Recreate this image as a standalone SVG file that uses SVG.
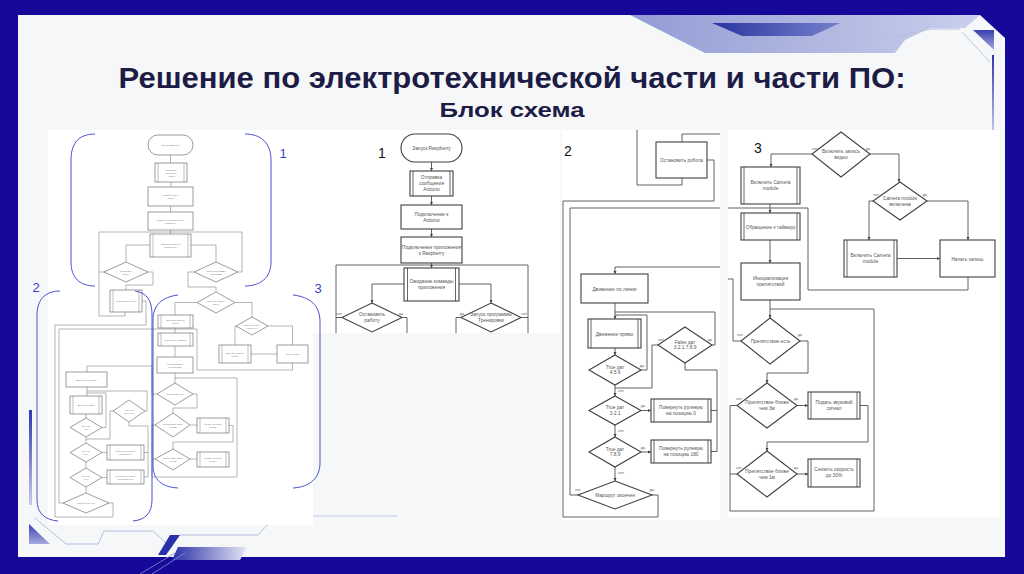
<svg xmlns="http://www.w3.org/2000/svg" width="1024" height="574" viewBox="0 0 1024 574">
<defs>
<style>
.ln{fill:none;stroke:#505050;stroke-width:0.9}
.bx{fill:#fff;stroke:#404040;stroke-width:1.1}
.pl{fill:none;stroke:#404040;stroke-width:0.8}
.t{font-family:"Liberation Sans",Arial,sans-serif;font-size:4.8px;fill:#555;text-anchor:middle}
.lb{font-family:"Liberation Sans",Arial,sans-serif;font-size:3.8px;fill:#555;text-anchor:middle}
.ol{fill:none;stroke:#6a6a6a;stroke-width:0.5}
.ob{fill:#fff;stroke:#5a5a5a;stroke-width:0.6}
.opl{fill:none;stroke:#5a5a5a;stroke-width:0.4}
.ot{font-family:"Liberation Sans",Arial,sans-serif;font-size:2.2px;fill:#777;text-anchor:middle}
.br{fill:none;stroke:#4b50d0;stroke-width:1}
.num{font-family:"Liberation Sans",Arial,sans-serif;font-size:13px;fill:#3a3fc4;text-anchor:middle}
.pn{font-family:"Liberation Sans",Arial,sans-serif;font-size:14px;fill:#111;text-anchor:middle}
.dl{fill:none;stroke:#b8bde2;stroke-width:1}
</style>
<marker id="ar" viewBox="0 0 6 6" refX="6" refY="3" markerWidth="3.5" markerHeight="3.5" orient="auto"><path d="M0,0L6,3L0,6z" fill="#444"/></marker>
<linearGradient id="gTop" x1="0" y1="0" x2="1" y2="0"><stop offset="0" stop-color="#939cd4"/><stop offset="1" stop-color="#c9cfec"/></linearGradient>
<linearGradient id="gBand" x1="0" y1="0" x2="1" y2="0"><stop offset="0" stop-color="#2a35a0"/><stop offset="1" stop-color="#7580cc"/></linearGradient>
<linearGradient id="gTri" x1="0" y1="0" x2="0" y2="1"><stop offset="0" stop-color="#3a3fb0"/><stop offset="1" stop-color="#a5aae0"/></linearGradient>
<linearGradient id="gV" x1="0" y1="0" x2="0" y2="1"><stop offset="0" stop-color="#2f35b0"/><stop offset="1" stop-color="#c8cbec"/></linearGradient>
<linearGradient id="gBar" x1="0" y1="0" x2="1" y2="0"><stop offset="0" stop-color="#2a30a8"/><stop offset="1" stop-color="#e5e7f5"/></linearGradient>
</defs>

<rect width="1024" height="574" fill="#16099a"/>
<polygon points="18,15 980,15 1005,38 1005,557 18,557" fill="#f6f7f9"/>

<g id="decor">
<polygon points="630,15 980,15 965,28 930,28 905,40 895,53 705,53" fill="url(#gTop)"/>
<polygon points="712,23 840,23 812,36 742,36" fill="url(#gBand)"/>
<polyline class="dl" points="860,40 900,36 930,29 960,29"/>
<polygon points="973,30 994,30 994,50" fill="url(#gTri)"/>
<line x1="962" y1="32" x2="990" y2="62" stroke="#c0c4e0" stroke-width="1"/>
<rect x="992" y="55" width="2" height="80" fill="url(#gV)"/>
<rect x="29" y="410" width="3" height="95" fill="url(#gV)"/>
<polygon points="29,524 29,544 50,544" fill="url(#gTri)"/>
<polyline class="dl" points="35,518 66,544 98,544 104,531 153,531 166,543"/>
<polyline class="dl" points="180,535 258,535 270,522"/>
<polygon points="170,535 180,535 166,555 158,555" fill="#2a30a8"/>
<polygon points="178,547 247,547 240,560 172,560" fill="url(#gBar)"/>
<line x1="175" y1="553" x2="140" y2="574" stroke="#8890d0" stroke-width="0.8"/>
<line x1="185" y1="553" x2="152" y2="574" stroke="#8890d0" stroke-width="0.8"/>
<line x1="313" y1="516" x2="397" y2="516" stroke="#c5c9ea" stroke-width="1"/>
</g>

<g id="title" font-family="'Liberation Sans',Arial,sans-serif" font-weight="bold" fill="#1d1c45" text-anchor="middle">
<text x="512" y="88" font-size="30" textLength="787" lengthAdjust="spacingAndGlyphs">Решение по электротехнической части и части ПО:</text>
<text x="512" y="117" font-size="21" textLength="145" lengthAdjust="spacingAndGlyphs">Блок схема</text>
</g>

<g id="panels">
<rect x="48" y="130" width="512" height="203" fill="#fff"/>
<rect x="48" y="333" width="265" height="192" fill="#fff"/>
<rect x="562" y="130" width="158" height="390" fill="#fff"/>
<rect x="728" y="130" width="272" height="387" fill="#fff"/>
</g>

<!-- ================= OVERVIEW ================= -->
<g id="overview-connectors">
<path class="ol" d="M170.5,155V163M171,182V187M170.5,206V212M170.5,230V234"/>
<path class="ol" d="M99,316V232H242V272H238M150,245H126V262M191,245H216V262M104,272H99M148,272H153V285H126V290M194,272H188V287H216V292M99,316H125V312"/>
<path class="ol" d="M142,301H146V325H55V517H113V503H109"/>
<path class="ol" d="M197,302.5H175V315M235,302.5H252V317M236,326H235V345M268,326H292.5V345M251,354H277M292.5,363V370H197V329H59V503H63"/>
<path class="ol" d="M175,328V333M175,346V357M175,373V383M175,378H237V477H152V425H155M152,459H155M157,394H152V366H87V372"/>
<path class="ol" d="M193,394H197V408H173V413M190,425H197M229,425.5H233V442H173V449M190,459H197"/>
<path class="ol" d="M87,387V396M87,391H147V411H145M87,393H106V427.5H102M86,414V418M86,437V443M113,411H110V439H86M129,422V426H148V477H144M144,452.5H148M102,452.5H107M86,462V468M102,477.5H107M86,487V493"/>
</g>
<g id="o-start"><rect class="ob" x="148" y="135" width="45" height="20" rx="10"/><text class="ot" x="170.5" y="146">Запуск Raspberry</text></g>
<g id="o-send"><rect class="ob" x="155" y="163" width="32" height="19"/><path class="opl" d="M158,163v19M184,163v19"/><text class="ot" x="171" y="170.5">Отправка</text><text class="ot" x="171" y="173.5">сообщения</text><text class="ot" x="171" y="176.5">Arduino</text></g>
<g id="o-conn"><rect class="ob" x="148" y="187" width="45" height="19"/><text class="ot" x="170.5" y="196">Подключение к</text><text class="ot" x="170.5" y="199">Arduino</text></g>
<g id="o-app"><rect class="ob" x="148" y="212" width="45" height="18"/><text class="ot" x="170.5" y="220.5">Подключение приложения</text><text class="ot" x="170.5" y="223.5">к Raspberry</text></g>
<g id="o-wait"><rect class="ob" x="150" y="234" width="41" height="23"/><path class="opl" d="M153,234v23M188,234v23"/><text class="ot" x="170.5" y="245">Ожидание команды</text><text class="ot" x="170.5" y="248">приложения</text></g>
<g id="o-stopq"><polygon class="ob" points="126,262 148,272 126,282 104,272"/><text class="ot" x="126" y="271.5">Остановить</text><text class="ot" x="126" y="274.5">работу</text></g>
<g id="o-train"><polygon class="ob" points="216,262 238,272 216,282 194,272"/><text class="ot" x="216" y="271.5">Запуск программы</text><text class="ot" x="216" y="274.5">Тренировки</text></g>
<g id="o-stop"><rect class="ob" x="110" y="290" width="32" height="22"/><path class="opl" d="M113,290v22M139,290v22"/><text class="ot" x="126" y="301.5">Остановить робота</text></g>
<g id="o-video"><polygon class="ob" points="216,292 235,302.5 216,313 197,302.5"/><text class="ot" x="216" y="302">Включить запись</text><text class="ot" x="216" y="305">видео</text></g>
<g id="o-cam1"><rect class="ob" x="158" y="315" width="35" height="13"/><path class="opl" d="M161,315v13M190,315v13"/><text class="ot" x="175.5" y="321">Включить Camera</text><text class="ot" x="175.5" y="324">module</text></g>
<g id="o-camon"><polygon class="ob" points="252,317 268,326 252,335 236,326"/><text class="ot" x="252" y="325.5">Camera module</text><text class="ot" x="252" y="328.5">включена</text></g>
<g id="o-cam2"><rect class="ob" x="219" y="345" width="32" height="18"/><path class="opl" d="M222,345v18M248,345v18"/><text class="ot" x="235" y="353.5">Включить Camera</text><text class="ot" x="235" y="356.5">module</text></g>
<g id="o-rec"><rect class="ob" x="277" y="345" width="31" height="18"/><text class="ot" x="292.5" y="355">Начать запись</text></g>
<g id="o-timer"><rect class="ob" x="158" y="333" width="35" height="13"/><path class="opl" d="M161,333v13M190,333v13"/><text class="ot" x="175.5" y="340.5">Обращение к таймеру</text></g>
<g id="o-init"><rect class="ob" x="157" y="357" width="36" height="16"/><text class="ot" x="175" y="364.5">Инициализация</text><text class="ot" x="175" y="367.5">препятствий</text></g>
<g id="o-obs"><polygon class="ob" points="175,383 193,394 175,405 157,394"/><text class="ot" x="175" y="395">Препятствие есть</text></g>
<g id="o-n3"><polygon class="ob" points="173,413 190,425 173,437 155,425"/><text class="ot" x="173" y="424.5">Препятствие ближе</text><text class="ot" x="173" y="427.5">чем 3м</text></g>
<g id="o-beep"><rect class="ob" x="197" y="418" width="32" height="15"/><path class="opl" d="M200,418v15M226,418v15"/><text class="ot" x="213" y="425">Подать звуковой</text><text class="ot" x="213" y="428">сигнал</text></g>
<g id="o-n1"><polygon class="ob" points="173,449 190,459 173,470 155,459"/><text class="ot" x="173" y="458.5">Препятствие ближе</text><text class="ot" x="173" y="461.5">чем 1м</text></g>
<g id="o-slow"><rect class="ob" x="197" y="452" width="32" height="15"/><path class="opl" d="M200,452v15M226,452v15"/><text class="ot" x="213" y="459">Снизить скорость</text><text class="ot" x="213" y="462">до 30%</text></g>
<g id="o-line"><rect class="ob" x="66" y="372" width="41" height="15"/><text class="ot" x="86.5" y="380.5">Движение по линии</text></g>
<g id="o-straight"><rect class="ob" x="70" y="396" width="32" height="18"/><path class="opl" d="M73,396v18M99,396v18"/><text class="ot" x="86" y="405.5">Движение прямо</text></g>
<g id="o-t456"><polygon class="ob" points="86,418 102,427.5 86,437 70,427.5"/><text class="ot" x="86" y="427">True дат</text><text class="ot" x="86" y="430">4.5.6</text></g>
<g id="o-false"><polygon class="ob" points="129,400 145,411 129,422 113,411"/><text class="ot" x="129" y="410.5">False дат</text><text class="ot" x="129" y="413.5">3.2.1.7.8.9</text></g>
<g id="o-t321"><polygon class="ob" points="86,443 102,452.5 86,462 70,452.5"/><text class="ot" x="86" y="452">True дат</text><text class="ot" x="86" y="455">3.2.1</text></g>
<g id="o-rot0"><rect class="ob" x="107" y="445" width="37" height="15"/><path class="opl" d="M110,445v15M141,445v15"/><text class="ot" x="125.5" y="452">Повернуть рулевую</text><text class="ot" x="125.5" y="455">на позицию 0</text></g>
<g id="o-t789"><polygon class="ob" points="86,468 102,477.5 86,487 70,477.5"/><text class="ot" x="86" y="477">True дат</text><text class="ot" x="86" y="480">7.8.9</text></g>
<g id="o-rot180"><rect class="ob" x="107" y="470" width="37" height="14"/><path class="opl" d="M110,470v14M141,470v14"/><text class="ot" x="125.5" y="476.5">Повернуть рулевую</text><text class="ot" x="125.5" y="479.5">на позицию 180</text></g>
<g id="o-end"><polygon class="ob" points="86,493 109,503 86,513 63,503"/><text class="ot" x="86" y="504">Маршрут окончен</text></g>

<g id="brackets">
<path class="br" d="M95,134C80,134 71,142 71,160L71,262C71,278 80,286 95,286"/>
<path class="br" d="M245,134C260,134 271,142 271,160L271,262C271,278 260,286 245,286"/>
<path class="br" d="M60,291C45,291 37,300 37,315L37,500C37,513 45,520 58,521"/>
<path class="br" d="M135,291C147,293 152,300 152,315L152,500C152,513 145,520 133,521"/>
<path class="br" d="M178,295C162,297 153,305 153,320L153,465C153,480 162,487 178,488"/>
<path class="br" d="M293,295C310,297 320,305 320,322L320,463C320,478 310,487 293,488"/>
<text class="num" x="283" y="158">1</text>
<text class="num" x="36" y="292">2</text>
<text class="num" x="318" y="293">3</text>
</g>

<!-- ================= PANEL 1 ================= -->
<g id="p1-connectors">
<path class="ln" marker-end="url(#ar)" d="M431.5,162V171"/>
<path class="ln" marker-end="url(#ar)" d="M431.5,196V205"/>
<path class="ln" marker-end="url(#ar)" d="M431.5,229V237"/>
<path class="ln" marker-end="url(#ar)" d="M431.5,263V268"/>
<path class="ln" d="M336,333V265H528V333"/>
<path class="ln" marker-end="url(#ar)" d="M404,284H372V303"/>
<path class="ln" marker-end="url(#ar)" d="M459,284H491V303"/>
<path class="ln" d="M342,317.5H336M402,317.5H407V333M461,317.5H456V333M521,317.5H528"/>
<text class="lb" x="339" y="314.5">нет</text><text class="lb" x="401" y="314.5">да</text>
<text class="lb" x="462" y="314.5">да</text><text class="lb" x="524" y="314.5">нет</text>
</g>
<text class="pn" x="382" y="158">1</text>
<g id="p1-start"><rect class="bx" x="401" y="134" width="61" height="28" rx="14"/><text class="t" x="431.5" y="150">Запуск Raspberry</text></g>
<g id="p1-send"><rect class="bx" x="410" y="171" width="43" height="25"/><path class="pl" d="M413,171v25M450,171v25"/><text class="t" x="431.5" y="178.5">Отправка</text><text class="t" x="431.5" y="184.5">сообщения</text><text class="t" x="431.5" y="190.5">Arduino</text></g>
<g id="p1-conn"><rect class="bx" x="401" y="205" width="61" height="24"/><text class="t" x="431.5" y="215.5">Подключение к</text><text class="t" x="431.5" y="221.5">Arduino</text></g>
<g id="p1-app"><rect class="bx" x="401" y="237" width="61" height="26"/><text class="t" x="431.5" y="248.5" font-size="4.4">Подключение приложения</text><text class="t" x="431.5" y="254.5">к Raspberry</text></g>
<g id="p1-wait"><rect class="bx" x="404" y="268" width="55" height="33" stroke-width="1.5"/><path class="pl" d="M407.5,268v33M455.5,268v33"/><text class="t" x="431.5" y="283">Ожидание команды</text><text class="t" x="431.5" y="289">приложения</text></g>
<g id="p1-stop"><polygon class="bx" points="372,303 402,317.5 372,332 342,317.5"/><text class="t" x="372" y="316">Остановить</text><text class="t" x="372" y="322">работу</text></g>
<g id="p1-train"><polygon class="bx" points="491,303 521,317.5 491,332 461,317.5"/><text class="t" x="491" y="316" font-size="4.4">Запуск программы</text><text class="t" x="491" y="322" font-size="4.4">Тренировки</text></g>

<!-- ================= PANEL 2 ================= -->
<text class="pn" x="568" y="156">2</text>
<g id="p2-connectors">
<path class="ln" d="M637,130V185H682V178"/>
<path class="ln" d="M682,142V134H720"/>
<path class="ln" d="M707,160H714V201H563V517H658V495H652"/>
<path class="ln" d="M720,208H570V495H578"/>
<path class="ln" marker-end="url(#ar)" d="M720,267H615V274"/>
<path class="ln" marker-end="url(#ar)" d="M615,303V319"/>
<path class="ln" d="M615,312H715V345H712M615,315H647V370H641"/>
<path class="ln" marker-end="url(#ar)" d="M615,348V355"/>
<path class="ln" marker-end="url(#ar)" d="M615,385V396"/>
<path class="ln" d="M658,345H652V388H615"/>
<path class="ln" d="M685,363V370H717V451.5H711M711,410.5H717"/>
<path class="ln" marker-end="url(#ar)" d="M641,410.5H651"/>
<path class="ln" marker-end="url(#ar)" d="M615,425V437"/>
<path class="ln" marker-end="url(#ar)" d="M641,452H651"/>
<path class="ln" marker-end="url(#ar)" d="M615,467V481"/>
<text class="lb" x="642" y="366.5">да</text><text class="lb" x="621" y="391.5">нет</text>
<text class="lb" x="661" y="340.5">нет</text><text class="lb" x="710" y="340.5">да</text>
<text class="lb" x="643" y="407">да</text><text class="lb" x="621" y="431.5">нет</text>
<text class="lb" x="643" y="448.5">да</text><text class="lb" x="621" y="473.5">нет</text>
<text class="lb" x="578" y="491">нет</text><text class="lb" x="652" y="491">да</text>
</g>
<g id="p2-stop"><rect class="bx" x="656" y="142" width="51" height="36"/><text class="t" x="681.5" y="162" font-size="4.6">Остановить робота</text></g>
<g id="p2-line"><rect class="bx" x="581" y="274" width="67" height="29"/><text class="t" x="614.5" y="290.5">Движение по линии</text></g>
<g id="p2-straight"><rect class="bx" x="588" y="319" width="53" height="29"/><path class="pl" d="M591,319v29M638,319v29"/><text class="t" x="614.5" y="335.5">Движение прямо</text></g>
<g id="p2-t456"><polygon class="bx" points="615,355 641,370 615,385 589,370"/><text class="t" x="615" y="368.5">True дат</text><text class="t" x="615" y="374">4.5.6</text></g>
<g id="p2-false"><polygon class="bx" points="685,327 712,345 685,363 658,345"/><text class="t" x="685" y="343.5">False дат</text><text class="t" x="685" y="349">3.2.1.7.8.9</text></g>
<g id="p2-t321"><polygon class="bx" points="615,396 641,410.5 615,425 589,410.5"/><text class="t" x="615" y="409">True дат</text><text class="t" x="615" y="414.5">3.2.1</text></g>
<g id="p2-rot0"><rect class="bx" x="651" y="399" width="60" height="23"/><path class="pl" d="M654,399v23M708,399v23"/><text class="t" x="681" y="409">Повернуть рулевую</text><text class="t" x="681" y="415">на позицию 0</text></g>
<g id="p2-t789"><polygon class="bx" points="615,437 641,452 615,467 589,452"/><text class="t" x="615" y="450.5">True дат</text><text class="t" x="615" y="456">7.8.9</text></g>
<g id="p2-rot180"><rect class="bx" x="651" y="440" width="60" height="23"/><path class="pl" d="M654,440v23M708,440v23"/><text class="t" x="681" y="450">Повернуть рулевую</text><text class="t" x="681" y="456">на позицию 180</text></g>
<g id="p2-end"><polygon class="bx" points="615,481 652,495 615,509 578,495"/><text class="t" x="615" y="497">Маршрут окончен</text></g>

<!-- ================= PANEL 3 ================= -->
<text class="pn" x="758" y="153">3</text>
<g id="p3-connectors">
<path class="ln" marker-end="url(#ar)" d="M812,154H771V167"/>
<path class="ln" marker-end="url(#ar)" d="M870,154H899V182"/>
<path class="ln" marker-end="url(#ar)" d="M873,201H869V240"/>
<path class="ln" marker-end="url(#ar)" d="M927,201H968V240"/>
<path class="ln" marker-end="url(#ar)" d="M897,258.5H940"/>
<path class="ln" d="M968,277V290H808V208H728"/>
<path class="ln" marker-end="url(#ar)" d="M770,204V213"/>
<path class="ln" marker-end="url(#ar)" d="M770,240V263"/>
<path class="ln" marker-end="url(#ar)" d="M770,300V318"/>
<path class="ln" d="M770,309H874V511H730V405.5H737M730,474H737"/>
<path class="ln" d="M741,341H733V279H728"/>
<path class="ln" marker-end="url(#ar)" d="M800,341H808V373H767V383"/>
<path class="ln" marker-end="url(#ar)" d="M797,405.5H808"/>
<path class="ln" marker-end="url(#ar)" d="M860,405.5H868V442H767V451"/>
<path class="ln" marker-end="url(#ar)" d="M797,474H808"/>
<text class="lb" x="815" y="149.5">нет</text><text class="lb" x="868" y="149.5">да</text>
<text class="lb" x="876" y="196">нет</text><text class="lb" x="925" y="196">да</text>
<text class="lb" x="740" y="336">нет</text><text class="lb" x="800" y="336">да</text>
<text class="lb" x="739" y="400">нет</text><text class="lb" x="796" y="400">да</text>
<text class="lb" x="739" y="468.5">нет</text><text class="lb" x="796" y="468.5">да</text>
</g>
<g id="p3-video"><polygon class="bx" points="841,132 870,154 841,177 812,154"/><text class="t" x="841" y="152.5">Включить запись</text><text class="t" x="841" y="158.5">видео</text></g>
<g id="p3-cam1"><rect class="bx" x="741" y="167" width="59" height="37"/><path class="pl" d="M744,167v37M797,167v37"/><text class="t" x="770.5" y="183.5">Включить Camera</text><text class="t" x="770.5" y="189.5">module</text></g>
<g id="p3-camon"><polygon class="bx" points="900,182 927,201 900,220 873,201"/><text class="t" x="900" y="199.5">Camera module</text><text class="t" x="900" y="205.5">включена</text></g>
<g id="p3-cam2"><rect class="bx" x="844" y="240" width="53" height="37"/><path class="pl" d="M847,240v37M894,240v37"/><text class="t" x="870.5" y="256.5">Включить Camera</text><text class="t" x="870.5" y="262.5">module</text></g>
<g id="p3-rec"><rect class="bx" x="940" y="240" width="55" height="37"/><text class="t" x="967.5" y="260.5">Начать запись</text></g>
<g id="p3-timer"><rect class="bx" x="741" y="213" width="59" height="27"/><path class="pl" d="M744,213v27M797,213v27"/><text class="t" x="770.5" y="228.5" font-size="4.6">Обращение к таймеру</text></g>
<g id="p3-init"><rect class="bx" x="741" y="263" width="59" height="37"/><text class="t" x="770.5" y="279.5">Инициализация</text><text class="t" x="770.5" y="285.5">препятствий</text></g>
<g id="p3-obs"><polygon class="bx" points="770,318 800,341 770,364 741,341"/><text class="t" x="770.5" y="343">Препятствие есть</text></g>
<g id="p3-near3"><polygon class="bx" points="767,383 797,405.5 767,428 737,405.5"/><text class="t" x="767" y="404">Препятствие ближе</text><text class="t" x="767" y="410">чем 3м</text></g>
<g id="p3-beep"><rect class="bx" x="808" y="392" width="52" height="27"/><path class="pl" d="M811,392v27M857,392v27"/><text class="t" x="834" y="403.5">Подать звуковой</text><text class="t" x="834" y="409.5">сигнал</text></g>
<g id="p3-near1"><polygon class="bx" points="767,451 797,474 767,497 737,474"/><text class="t" x="767" y="472.5">Препятствие ближе</text><text class="t" x="767" y="478.5">чем 1м</text></g>
<g id="p3-slow"><rect class="bx" x="808" y="459" width="52" height="28"/><path class="pl" d="M811,459v28M857,459v28"/><text class="t" x="834" y="471">Снизить скорость</text><text class="t" x="834" y="477">до 30%</text></g>
</svg>
